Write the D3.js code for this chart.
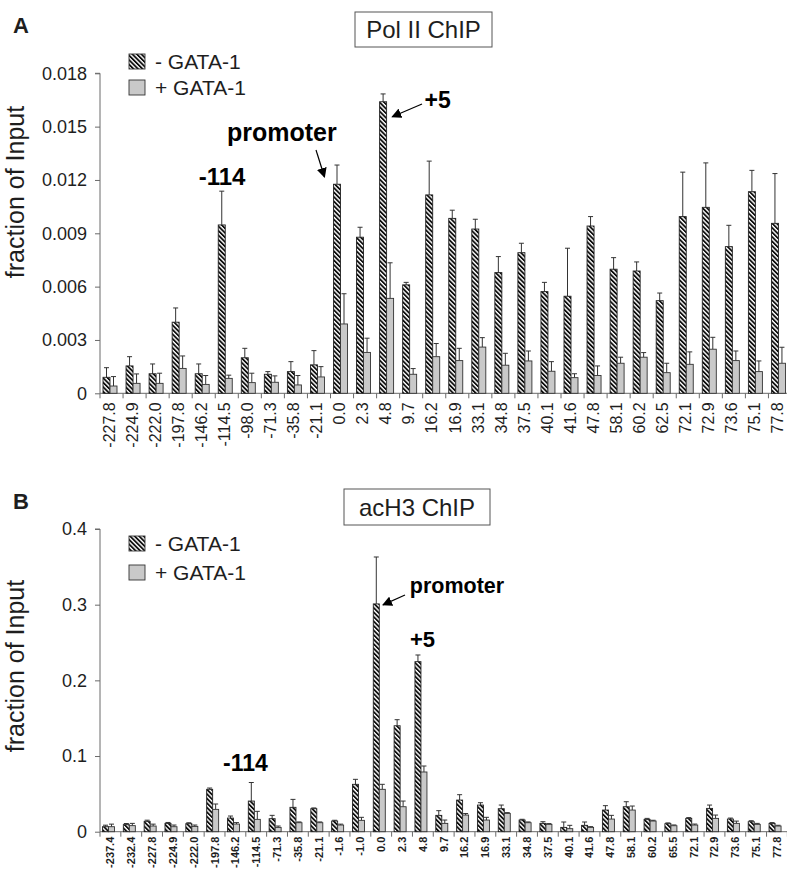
<!DOCTYPE html>
<html><head><meta charset="utf-8">
<script src="https://cdn.jsdelivr.net/npm/d3@7"></script>
<style>
html,body{margin:0;padding:0;background:#fff;}
svg{display:block;font-family:"Liberation Sans",Arial,sans-serif;}
</style></head>
<body>
<svg id="chart" width="787" height="874"></svg>
<script>
// ---------- DATA ----------
const catsA = ["-227.8","-224.9","-222.0","-197.8","-146.2","-114.5","-98.0","-71.3","-35.8","-21.1","0.0","2.3","4.8","9.7","16.2","16.9","33.1","34.8","37.5","40.1","41.6","47.8","58.1","60.2","62.5","72.1","72.9","73.6","75.1","77.8"];
const minusA = [0.0009,0.00154,0.0011,0.0040,0.0011,0.00947,0.0020,0.00107,0.00122,0.0016,0.01176,0.00878,0.0164,0.0061,0.01116,0.00984,0.00924,0.00679,0.00791,0.00572,0.00546,0.00941,0.00698,0.00688,0.00521,0.00994,0.01046,0.00825,0.01134,0.00956];
const minusErrA = [0.00054,0.00052,0.00055,0.0008,0.00055,0.0019,0.00053,0.00015,0.00056,0.0008,0.00108,0.00056,0.00044,0.00014,0.0019,0.00046,0.00055,0.0009,0.00053,0.00052,0.0027,0.00053,0.00065,0.00051,0.00043,0.0025,0.0025,0.0012,0.0012,0.0028];
const plusA = [0.00041,0.00056,0.00056,0.0014,0.0005,0.00084,0.0006,0.00062,0.00047,0.00092,0.0039,0.0023,0.00534,0.00107,0.00206,0.00184,0.0026,0.00158,0.00182,0.00124,0.00088,0.001,0.00169,0.00203,0.00116,0.00163,0.00248,0.00184,0.00122,0.00169];
const plusErrA = [0.00053,0.00053,0.00057,0.0007,0.0005,0.00018,0.00053,0.00036,0.00053,0.00058,0.0017,0.0008,0.002,0.00032,0.00074,0.00069,0.00053,0.00067,0.00056,0.00054,0.00022,0.00054,0.00034,0.00026,0.00053,0.0007,0.00067,0.00054,0.0006,0.0009];
const ticksA = [0,0.003,0.006,0.009,0.012,0.015,0.018];
const tickLabelsA = ["0","0.003","0.006","0.009","0.012","0.015","0.018"];

const catsB = ["-237.4","-232.4","-227.8","-224.9","-222.0","-197.8","-146.2","-114.5","-71.3","-35.8","-21.1","-1.6","-1.0","0.0","2.3","4.8","9.7","16.2","16.9","33.1","34.8","37.5","40.1","41.6","47.8","58.1","60.2","65.5","72.1","72.9","73.6","75.1","77.8"];
const minusB = [0.0066,0.0093,0.0137,0.011,0.0106,0.056,0.018,0.0405,0.0172,0.0322,0.0304,0.0141,0.0626,0.301,0.140,0.2247,0.0216,0.0418,0.0352,0.0304,0.0154,0.011,0.0057,0.0084,0.0286,0.033,0.0163,0.0106,0.0176,0.0308,0.0167,0.0132,0.011];
const minusErrB = [0.002,0.0015,0.0015,0.0012,0.0012,0.0017,0.0027,0.0245,0.0044,0.0105,0.001,0.001,0.0066,0.062,0.008,0.0088,0.0062,0.0071,0.0031,0.0048,0.001,0.0022,0.0071,0.0044,0.0058,0.0066,0.0013,0.001,0.001,0.0044,0.0013,0.0013,0.001];
const plusB = [0.0066,0.008,0.0075,0.0066,0.007,0.0295,0.0101,0.0163,0.0057,0.0119,0.0119,0.0088,0.015,0.056,0.033,0.0789,0.011,0.022,0.0154,0.0242,0.0119,0.0097,0.004,0.0057,0.0167,0.0286,0.0141,0.0079,0.0088,0.0176,0.011,0.0097,0.0075];
const plusErrB = [0.0034,0.003,0.0025,0.0022,0.0018,0.0071,0.0019,0.0106,0.0018,0.001,0.001,0.0012,0.004,0.0066,0.0075,0.0079,0.0044,0.002,0.0036,0.001,0.001,0.001,0.0044,0.001,0.0049,0.0053,0.001,0.001,0.0013,0.0044,0.003,0.0013,0.001];
const ticksB = [0,0.1,0.2,0.3,0.4];
const tickLabelsB = ["0","0.1","0.2","0.3","0.4"];

const seriesNames = ["- GATA-1","+ GATA-1"];

// ---------- DRAW ----------
const svg = d3.select("#chart");
const ink = "#1e1e1e";
const axisCol = "#6a6a6a";

const defs = svg.append("defs");
const pat = defs.append("pattern").attr("id","hatch").attr("patternUnits","userSpaceOnUse")
  .attr("width",3.2).attr("height",3.2).attr("patternTransform","rotate(-45)");
pat.append("rect").attr("width",3.2).attr("height",3.2).attr("fill","#fff");
pat.append("rect").attr("width",1.8).attr("height",3.2).attr("fill","#0d0d0d");

defs.append("marker").attr("id","arrow").attr("viewBox","0 0 10 10").attr("refX",9).attr("refY",5)
  .attr("markerWidth",10).attr("markerHeight",10).attr("markerUnits","userSpaceOnUse").attr("orient","auto")
  .append("path").attr("d","M0,0L10,5L0,10Z").attr("fill","#000");

function panel(cfg){
  const g = svg.append("g");
  const x = d3.scaleBand().domain(cfg.cats).range([cfg.left, cfg.left + cfg.cats.length*cfg.step]).padding(0);
  const inner = d3.scaleBand().domain(["minus","plus"]).range(cfg.inner).padding(0);
  const y = d3.scaleLinear().domain([0, cfg.ymax]).range([cfg.y0, cfg.ytop]);

  // y axis
  const ya = d3.axisLeft(y).tickValues(cfg.ticks).tickSize(5).tickPadding(8)
      .tickFormat((d,i)=>cfg.tickLabels[i]);
  const yg = g.append("g").attr("transform",`translate(${cfg.left},0)`).call(ya);
  yg.select(".domain").attr("stroke",axisCol).attr("d",`M-5,${cfg.ytop}H0V${cfg.y0}`);
  yg.selectAll(".tick line").attr("stroke",axisCol);
  yg.selectAll(".tick text").attr("fill",ink).style("font-size","18px").style("font-family","'Liberation Sans',Arial,sans-serif");

  // x axis line + boundary ticks
  const xEnd = cfg.left + cfg.cats.length*cfg.step;
  g.append("line").attr("x1",cfg.left).attr("x2",xEnd).attr("y1",cfg.y0).attr("y2",cfg.y0).attr("stroke",axisCol);
  const bounds = cfg.cats.map(c=>x(c)).concat([xEnd]);
  g.selectAll(".xt").data(bounds).join("line").attr("x1",d=>d).attr("x2",d=>d)
    .attr("y1",cfg.y0).attr("y2",cfg.y0+5).attr("stroke",axisCol);

  // x labels
  g.selectAll(".xl").data(cfg.cats).join("text")
    .attr("transform",c=>`translate(${x(c)+cfg.labX},${cfg.y0+cfg.labOff}) rotate(-90)`)
    .attr("text-anchor","end").attr("dy","0.36em")
    .style("font-size",cfg.labSize+"px").style("font-weight",cfg.labWeight).attr("fill",ink)
    .text(c=>c);

  const rows = cfg.cats.map((c,i)=>({c, m:cfg.minus[i], me:cfg.minusErr[i], p:cfg.plus[i], pe:cfg.plusErr[i]}));
  const bw = inner.bandwidth();
  function errs(key, ekey, s){
    g.selectAll(".e"+key).data(rows).join("path")
      .attr("d",d=>{const cx = x(d.c)+inner(s)+bw/2; const yt=y(d[key]+d[ekey]);
        return `M${cx},${y(d[key])}V${yt}M${cx-2.5},${yt}H${cx+2.5}`;})
      .attr("stroke","#333").attr("stroke-width",1).attr("fill","none");
  }
  errs("m","me","minus"); errs("p","pe","plus");
  g.selectAll(".bm").data(rows).join("rect")
    .attr("x",d=>x(d.c)+inner("minus")).attr("width",bw)
    .attr("y",d=>y(d.m)).attr("height",d=>cfg.y0-y(d.m))
    .attr("fill","url(#hatch)").attr("stroke","#222").attr("stroke-width",0.9);
  g.selectAll(".bp").data(rows).join("rect")
    .attr("x",d=>x(d.c)+inner("plus")).attr("width",bw)
    .attr("y",d=>y(d.p)).attr("height",d=>cfg.y0-y(d.p))
    .attr("fill","#c9c9c9").attr("stroke","#333").attr("stroke-width",0.9);

  // y title
  g.append("text").attr("transform",`translate(${cfg.ylabX},${cfg.ylabY}) rotate(-90)`)
    .attr("text-anchor","middle").style("font-size","25px").attr("fill",ink).text("fraction of Input");

  // panel letter
  g.append("text").attr("x",13).attr("y",cfg.letterY).style("font-size","22px").style("font-weight","bold")
    .attr("fill",ink).text(cfg.letter);

  // title box
  g.append("rect").attr("x",cfg.box[0]).attr("y",cfg.box[1]).attr("width",cfg.box[2]).attr("height",cfg.box[3])
    .attr("fill","#fff").attr("stroke","#555").attr("stroke-width",1);
  g.append("text").attr("x",cfg.box[0]+cfg.box[2]/2).attr("y",cfg.box[1]+cfg.box[3]/2).attr("dy","0.36em")
    .attr("text-anchor","middle").style("font-size","24px").attr("fill",ink).text(cfg.title);

  // legend
  seriesNames.forEach((s,i)=>{
    const ly = cfg.legY + i*cfg.legGap;
    g.append("rect").attr("x",129).attr("y",ly).attr("width",16).attr("height",15)
      .attr("fill", i===0?"url(#hatch)":"#c9c9c9").attr("stroke","#333").attr("stroke-width",0.9);
    g.append("text").attr("x",155).attr("y",ly+7.5).attr("dy","0.36em").style("font-size","21px")
      .attr("fill",ink).text(s);
  });

  return {x,y,inner,g};
}

const A = panel({cats:catsA, minus:minusA, minusErr:minusErrA, plus:plusA, plusErr:plusErrA,
  left:100, step:23.05, inner:[3,17], ymax:0.018, y0:393.3, ytop:73.3, ticks:ticksA, tickLabels:tickLabelsA,
  labX:9, labOff:9, labSize:16, labWeight:"normal", ylabX:24, ylabY:192, letter:"A", letterY:33,
  box:[355,12,137,35], title:"Pol II ChIP", legY:54, legGap:26});

const B = panel({cats:catsB, minus:minusB, minusErr:minusErrB, plus:plusB, plusErr:plusErrB,
  left:100, step:20.83, inner:[2.5,14.5], ymax:0.4, y0:831.7, ytop:529, ticks:ticksB, tickLabels:tickLabelsB,
  labX:10.4, labOff:5, labSize:11, labWeight:"bold", ylabX:24, ylabY:666, letter:"B", letterY:509,
  box:[344,489,146,36], title:"acH3 ChIP", legY:536, legGap:29});

// ---------- annotations (anchored to data) ----------
function label(P, cat, val, dx, dy, txt, size){
  P.g.append("text").attr("x",P.x(cat)+dx).attr("y",P.y(val)+dy).style("font-size",size+"px")
    .style("font-weight","bold").attr("fill","#000").text(txt);
}
function arrow(P, x1,y1, cat, s, val, dx, dy){
  const tx = P.x(cat)+P.inner(s)+dx, ty = P.y(val)+dy;
  P.g.append("line").attr("x1",x1).attr("y1",y1).attr("x2",tx).attr("y2",ty)
    .attr("stroke","#000").attr("stroke-width",1.2).attr("marker-end","url(#arrow)");
}
// Panel A
label(A, "-114.5", minusA[5]+minusErrA[5], -16.5, -6, "-114", 24);
label(A, "0.0", minusA[10]+minusErrA[10], -103.5, -24.3, "promoter", 25);
arrow(A, 316, 150, "0.0", "minus", minusA[10]+minusErrA[10], -9, 12);
label(A, "4.8", minusA[12], 48, 6, "+5", 23);
arrow(A, 422, 104, "4.8", "minus", minusA[12], 12.6, 15);
// Panel B
label(B, "-114.5", minusB[7]+minusErrB[7], -22.8, -11.5, "-114", 23);
label(B, "0.0", minusB[13], 39, -11, "promoter", 21.5);
arrow(B, 405, 595, "0.0", "minus", minusB[13], 9.7, 1);
label(B, "4.8", minusB[15], -2.5, -14.7, "+5", 22);
</script>
</body></html>
